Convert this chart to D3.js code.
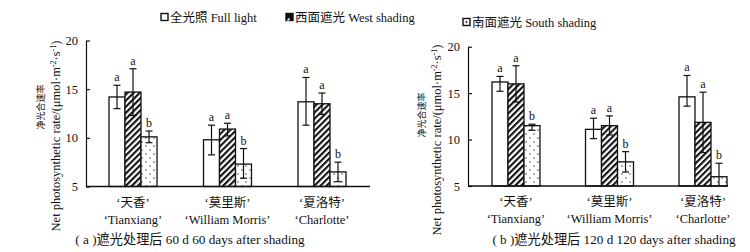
<!DOCTYPE html>
<html>
<head>
<meta charset="utf-8">
<script src="https://cdn.jsdelivr.net/npm/d3@7"></script>
<style>
  html, body { margin: 0; padding: 0; background: #fff; }
  svg text { font-family: "Liberation Serif", "Noto Sans CJK SC", serif; fill: #111; }
</style>
</head>
<body>
<svg id="chart" width="750" height="252"></svg>
<script>
// ===============================
// Dades
// ===============================
const cultivarsCn = ["‘天香’", "‘莫里斯’", "‘夏洛特’"];
const cultivarsEn = ["‘Tianxiang’", "‘William Morris’", "‘Charlotte’"];
const seriesNames = ["全光照 Full light", "西面遮光 West shading", "南面遮光 South shading"];
const yTicks = [5, 10, 15, 20];

// 60 d
const full60 = [14.2, 9.8, 13.7];
const west60 = [14.7, 10.9, 13.5];
const south60 = [10.1, 7.3, 6.5];
const full60Hi = [15.4, 11.3, 16.2];
const full60Lo = [13.0, 8.25, 11.3];
const west60Hi = [17.1, 11.5, 14.6];
const west60Lo = [12.3, 10.2, 12.4];
const south60Hi = [10.7, 8.9, 7.5];
const south60Lo = [9.5, 5.85, 5.5];
const letters60 = [["a", "a", "b"], ["a", "a", "b"], ["a", "a", "b"]];

// 120 d
const full120 = [16.2, 11.1, 14.6];
const west120 = [16.0, 11.5, 11.85];
const south120 = [11.5, 7.6, 6.0];
const full120Hi = [16.8, 12.3, 16.9];
const full120Lo = [15.2, 10.1, 13.6];
const west120Hi = [17.95, 12.55, 15.1];
const west120Lo = [14.05, 10.5, 8.6];
const south120Hi = [11.65, 8.7, 7.45];
const south120Lo = [11.0, 6.5, 5.0];
const letters120 = [["a", "a", "b"], ["a", "a", "b"], ["a", "a", "b"]];

const svg = d3.select("#chart");

// ===============================
// Patrons (ratllat i punts)
// ===============================
const defs = svg.append("defs");

const hatch = defs.append("pattern")
  .attr("id", "hatch")
  .attr("patternUnits", "userSpaceOnUse")
  .attr("width", 4.3)
  .attr("height", 8)
  .attr("patternTransform", "rotate(45)");
hatch.append("rect").attr("width", 4.3).attr("height", 8).attr("fill", "#fff");
hatch.append("rect")
  .attr("x", 0).attr("y", 0).attr("width", 2.1).attr("height", 8)
  .attr("fill", "#111");

const dots = defs.append("pattern")
  .attr("id", "dots")
  .attr("patternUnits", "userSpaceOnUse")
  .attr("width", 8)
  .attr("height", 8);
dots.append("rect").attr("width", 8).attr("height", 8).attr("fill", "#fff");
dots.append("circle").attr("cx", 2).attr("cy", 2).attr("r", 0.7).attr("fill", "#222");
dots.append("circle").attr("cx", 6).attr("cy", 6).attr("r", 0.7).attr("fill", "#222");

const fills = ["#fff", "url(#hatch)", "url(#dots)"];

// ===============================
// Llegenda
// ===============================
const legendPos = [[161, 17], [286, 17], [463, 22]];
seriesNames.forEach((name, i) => {
  const g = svg.append("g").attr("transform", `translate(${legendPos[i][0]}, ${legendPos[i][1]})`);
  g.append("rect")
    .attr("x", 0).attr("y", -3.5)
    .attr("width", 7).attr("height", 7)
    .attr("fill", i === 1 ? "#111" : "#fff")
    .attr("stroke", "#111").attr("stroke-width", 1.4);
  if (i === 1) {
    g.append("path").attr("d", "M0.5,3.5 L3.5,3.5 L3.5,0.5 Z").attr("fill", "#fff");
  }
  if (i === 2) {
    g.append("circle").attr("cx", 3.5).attr("cy", 0).attr("r", 0.9).attr("fill", "#111");
  }
  g.append("text")
    .attr("x", 9).attr("y", 4.5)
    .style("font-size", "12.5px")
    .text(name);
});

// ===============================
// Panell
// ===============================
function drawPanel(p) {
  const y = d3.scaleLinear().domain([5, 20]).range([p.yBottom, p.yTop]);
  const x0 = d3.scalePoint().domain(cultivarsEn).range(p.centers);
  const x1 = d3.scaleBand().domain([0, 1, 2]).range([-24, 24]);

  const g = svg.append("g");

  const series = [
    { vals: p.full, hi: p.fullHi, lo: p.fullLo },
    { vals: p.west, hi: p.westHi, lo: p.westLo },
    { vals: p.south, hi: p.southHi, lo: p.southLo }
  ];

  const bars = [];
  series.forEach((s, si) => {
    s.vals.forEach((v, ci) => {
      bars.push({ si, ci, v, hi: s.hi[ci], lo: Math.max(5, s.lo[ci]), letter: p.letters[ci][si] });
    });
  });

  const bx = d => x0(cultivarsEn[d.ci]) + x1(d.si);
  const bw = x1.bandwidth();

  g.selectAll(".bar")
    .data(bars)
    .enter()
    .append("rect")
    .attr("x", bx)
    .attr("y", d => y(d.v))
    .attr("width", bw)
    .attr("height", d => y(5) - y(d.v))
    .attr("fill", d => fills[d.si])
    .attr("stroke", "#111")
    .attr("stroke-width", 1.3);

  // barres d'error
  const eb = g.selectAll(".err").data(bars).enter().append("g")
    .attr("stroke", "#111").attr("stroke-width", 1.2);
  eb.append("line")
    .attr("x1", d => bx(d) + bw / 2).attr("x2", d => bx(d) + bw / 2)
    .attr("y1", d => y(d.hi)).attr("y2", d => y(d.lo));
  eb.append("line")
    .attr("x1", d => bx(d) + bw / 2 - 3.5).attr("x2", d => bx(d) + bw / 2 + 3.5)
    .attr("y1", d => y(d.hi)).attr("y2", d => y(d.hi));
  eb.filter(d => d.lo > 5).append("line")
    .attr("x1", d => bx(d) + bw / 2 - 3.5).attr("x2", d => bx(d) + bw / 2 + 3.5)
    .attr("y1", d => y(d.lo)).attr("y2", d => y(d.lo));

  g.selectAll(".letter")
    .data(bars)
    .enter()
    .append("text")
    .attr("x", d => bx(d) + bw / 2)
    .attr("y", d => y(d.hi) - 4)
    .attr("text-anchor", "middle")
    .style("font-size", "12px")
    .text(d => d.letter);

  // eixos
  const yAxis = d3.axisLeft(y).tickValues(yTicks).tickSizeInner(-4).tickSizeOuter(0).tickPadding(8);
  g.append("g")
    .attr("transform", `translate(${p.axisX}, 0)`)
    .call(yAxis)
    .call(a => a.select(".domain").attr("stroke", "#111").attr("stroke-width", 1.2))
    .call(a => a.selectAll(".tick line").attr("stroke", "#111").attr("stroke-width", 1.2))
    .call(a => a.selectAll(".tick text")
      .style("font-family", "'Liberation Serif', serif")
      .style("font-size", "12.5px")
      .attr("fill", "#111"));

  g.append("line")
    .attr("x1", p.axisX).attr("x2", p.axisEnd)
    .attr("y1", y(5)).attr("y2", y(5))
    .attr("stroke", "#111").attr("stroke-width", 1.3);

  // etiquetes de categoria
  cultivarsEn.forEach((c, i) => {
    g.append("text")
      .attr("x", x0(c)).attr("y", p.yBottom + 20)
      .attr("text-anchor", "middle")
      .style("font-size", "12.5px")
      .text(cultivarsCn[i]);
    g.append("text")
      .attr("x", x0(c)).attr("y", p.yBottom + 37)
      .attr("text-anchor", "middle")
      .style("font-size", "12.5px")
      .text(c);
  });

  // títol eix Y
  g.append("text")
    .attr("transform", `translate(${p.cnX}, ${p.cnY}) rotate(-90)`)
    .attr("text-anchor", "middle")
    .style("font-size", "9px")
    .text("净光合速率");
  const en = g.append("text")
    .attr("transform", `translate(${p.enX}, ${p.enY}) rotate(-90)`)
    .attr("text-anchor", "middle")
    .style("font-size", "12.5px");
  en.append("tspan").text("Net photosynthetic rate/(μmol·m");
  en.append("tspan").attr("baseline-shift", "super").style("font-size", "8px").text("-2");
  en.append("tspan").text("·s");
  en.append("tspan").attr("baseline-shift", "super").style("font-size", "8px").text("-1");
  en.append("tspan").text(")");

  // peu
  g.append("text")
    .attr("x", p.capX).attr("y", 244)
    .attr("text-anchor", "middle")
    .style("font-size", "13.2px")
    .text(p.caption);
}

drawPanel({
  yTop: 40.5, yBottom: 186.5, axisX: 86, axisEnd: 370, centers: [133, 322],
  full: full60, west: west60, south: south60,
  fullHi: full60Hi, fullLo: full60Lo, westHi: west60Hi, westLo: west60Lo,
  southHi: south60Hi, southLo: south60Lo, letters: letters60,
  cnX: 44, cnY: 107, enX: 60, enY: 136,
  capX: 190, caption: "( a )遮光处理后 60 d 60 days after shading"
});

drawPanel({
  yTop: 46.7, yBottom: 186, axisX: 468, axisEnd: 728, centers: [516, 703],
  full: full120, west: west120, south: south120,
  fullHi: full120Hi, fullLo: full120Lo, westHi: west120Hi, westLo: west120Lo,
  southHi: south120Hi, southLo: south120Lo, letters: letters120,
  cnX: 425, cnY: 115, enX: 441, enY: 140,
  capX: 614, caption: "( b )遮光处理后 120 d 120 days after shading"
});
</script>
</body>
</html>
